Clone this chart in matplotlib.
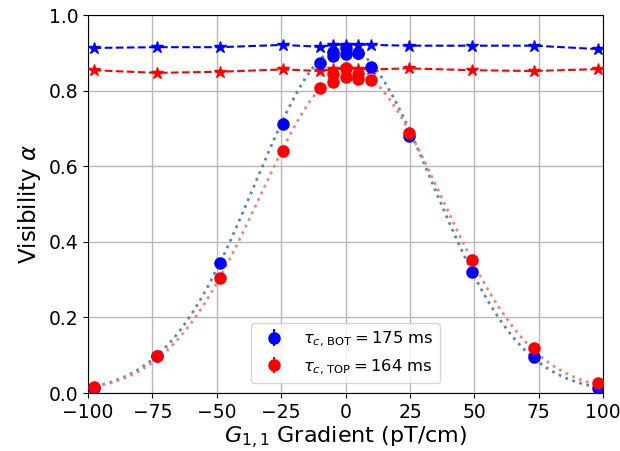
import numpy as np
import matplotlib
matplotlib.use('Agg')
import matplotlib.pyplot as plt

# gradient settings (pT/cm)
grad_pts = [-97.8, -73.3, -48.9, -24.4, -9.8, -4.9, -4.9, 0.0, 0.0, 4.9, 4.9, 9.8, 24.4, 48.9, 73.3, 97.8]

# visibility, bottom cell (blue dots)
vis_bot = [0.012, 0.097, 0.343, 0.712, 0.873, 0.902, 0.893, 0.912, 0.897, 0.899, 0.899, 0.862, 0.680, 0.320, 0.094, 0.014]
# visibility, top cell (red dots)
vis_top = [0.017, 0.099, 0.303, 0.640, 0.806, 0.845, 0.822, 0.860, 0.835, 0.845, 0.832, 0.828, 0.687, 0.352, 0.120, 0.027]
err_bot = [0.004] * len(grad_pts)
err_top = [0.004] * len(grad_pts)

# reference (star) measurements
grad_ref = [-97.8, -73.3, -48.9, -24.4, -9.8, -4.9, 0.0, 4.9, 9.8, 24.4, 48.9, 73.3, 97.8]
ref_bot = [0.913, 0.915, 0.915, 0.921, 0.916, 0.921, 0.922, 0.922, 0.921, 0.919, 0.919, 0.919, 0.910]
ref_top = [0.854, 0.847, 0.850, 0.856, 0.852, 0.856, 0.859, 0.858, 0.856, 0.859, 0.854, 0.852, 0.857]

# gaussian fit parameters (amplitude, centre, sigma)
fit_bot = (0.915, -0.7, 34.4)
fit_top = (0.852, 1.9, 35.4)

tau_bot = 175
tau_top = 164


def gauss(x, a, c, s):
    return a * np.exp(-(x - c) ** 2 / (2 * s ** 2))


fig = plt.figure(figsize=(6.2, 4.51), dpi=100)
ax = fig.add_axes([0.142, 0.1286, 0.831, 0.838])

xx = np.linspace(-100, 100, 400)
ax.plot(xx, gauss(xx, *fit_bot), ':', color='#5a85b5', lw=2, zorder=2)
ax.plot(xx, gauss(xx, *fit_top), ':', color='#e5887c', lw=2, zorder=2)

ax.plot(grad_ref, ref_bot, '*--', color='b', ms=9, lw=1.5, zorder=3)
ax.plot(grad_ref, ref_top, '*--', color='r', ms=9, lw=1.5, zorder=3)

ax.errorbar(grad_pts, vis_bot, yerr=err_bot, fmt='o', color='b', ms=8,
            label=r'$\tau_{c,\,\mathrm{BOT}} = %d$ ms' % tau_bot, zorder=4)
ax.errorbar(grad_pts, vis_top, yerr=err_top, fmt='o', color='r', ms=8,
            label=r'$\tau_{c,\,\mathrm{TOP}} = %d$ ms' % tau_top, zorder=5)

ax.set_xlim(-100, 100)
ax.set_ylim(0, 1.0)
ax.set_xticks(np.arange(-100, 101, 25))
ax.set_yticks(np.arange(0, 1.01, 0.2))
ax.tick_params(labelsize=13.5)
ax.grid(True, color='#b8b8b8', lw=1)
ax.set_axisbelow(True)

ax.set_xlabel(r'$G_{1,1}$ Gradient (pT/cm)', fontsize=16, labelpad=2)
ax.set_ylabel(r'Visibility $\alpha$', fontsize=16.5)

ax.legend(loc='lower center', fontsize=11.8, borderaxespad=0.6)

fig.savefig('out.png', dpi=100)
